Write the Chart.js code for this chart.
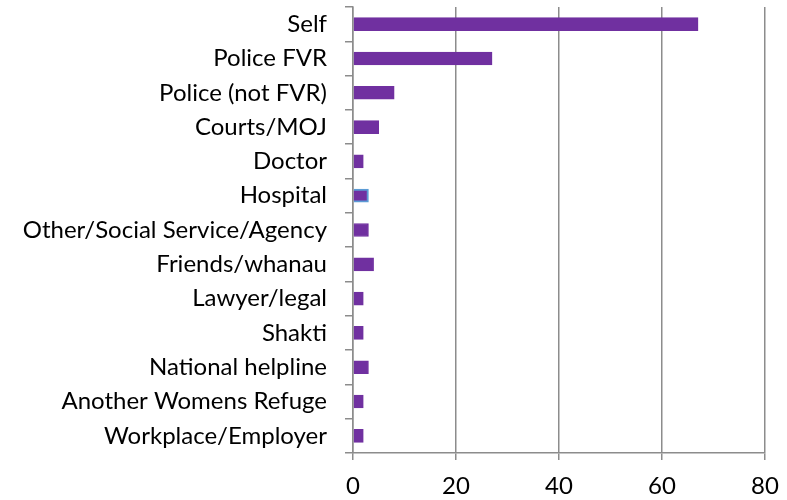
<!DOCTYPE html>
<html>
<head>
<meta charset="utf-8">
<script src="https://cdn.jsdelivr.net/npm/chart.js@4"></script>
<style>
  html, body { margin: 0; padding: 0; background: #fff; }
  #wrap { width: 787px; height: 500px; }
</style>
</head>
<body>
<div id="wrap"><canvas id="chart" width="787" height="500"></canvas></div>
<script>
// referral sources
var categories = ['Self', 'Police FVR', 'Police (not FVR)', 'Courts/MOJ', 'Doctor', 'Hospital',
    'Other/Social Service/Agency', 'Friends/whanau', 'Lawyer/legal', 'Shakti',
    'National helpline', 'Another Womens Refuge', 'Workplace/Employer'];
var counts = [67, 27, 8, 5, 2, 3, 3, 4, 2, 2, 3, 2, 2];
var xTicks = [0, 20, 40, 60, 80];

var purple = '#7030A0';
var gridGray = '#8c8c8c';

// hospital bar has the odd blue outline in the original
var borders = categories.map(function (c) {
    return c === 'Hospital' ? '#5b9bd5' : purple;
});
var borderWidths = categories.map(function (c) {
    return c === 'Hospital' ? 2 : 1;
});

var ctx = document.getElementById('chart').getContext('2d');
new Chart(ctx, {
    type: 'bar',
    data: {
        labels: categories,
        datasets: [{
            data: counts,
            backgroundColor: purple,
            borderColor: borders,
            borderWidth: borderWidths,
            barThickness: 13
        }]
    },
    options: {
        indexAxis: 'y',
        responsive: false,
        animation: false,
        layout: { padding: { top: 7, right: 22, left: 0, bottom: 0 } },
        plugins: { legend: { display: false }, tooltip: { enabled: false } },
        scales: {
            x: {
                min: 0,
                max: 80,
                afterBuildTicks: function (scale) {
                    scale.ticks = xTicks.map(function (v) { return { value: v }; });
                },
                afterFit: function (scale) {
                    scale.height = 47;
                    scale.paddingLeft = 0;
                    scale.paddingRight = 0;
                },
                grid: { color: gridGray, lineWidth: 1.5, tickLength: 7, tickColor: gridGray },
                border: { color: gridGray, width: 1.5 },
                ticks: { color: '#000', font: { family: 'Lato', size: 24 }, padding: 12 }
            },
            y: {
                afterFit: function (scale) {
                    scale.width = 353;
                    scale.paddingTop = 0;
                    scale.paddingBottom = 0;
                },
                grid: { offset: true, drawOnChartArea: false, color: gridGray, lineWidth: 1.5, tickLength: 8 },
                border: { color: gridGray, width: 1.5 },
                ticks: { color: '#000', font: { family: 'Lato', size: 24 }, padding: 18, autoSkip: false }
            }
        }
    }
});
</script>
</body>
</html>
